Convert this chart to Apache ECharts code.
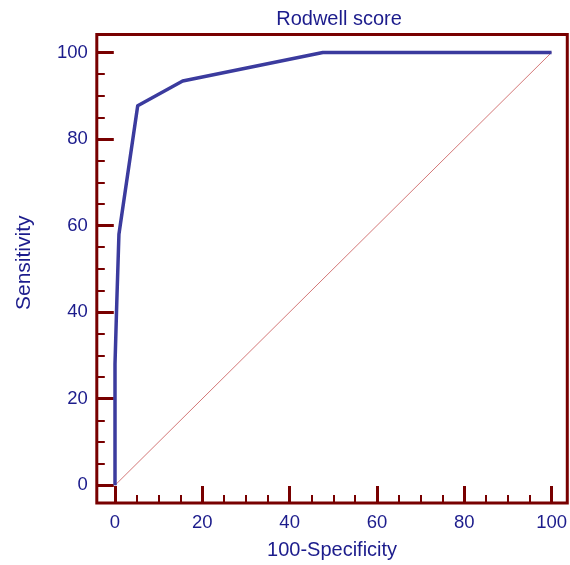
<!DOCTYPE html>
<html>
<head>
<meta charset="utf-8">
<script src="https://cdn.jsdelivr.net/npm/echarts@6/dist/echarts.min.js"></script>
<style>html,body{margin:0;padding:0;background:#fff}#c{width:570px;height:565px}</style>
</head>
<body>
<div id="c"></div>
<script>
var titleText = "Rodwell score";
var xName = "100-Specificity";
var yName = "Sensitivity";
var rocX = [0, 0, 0.4, 0.9, 5.2, 15.5, 47.6, 100];
var rocY = [0, 28, 42, 58, 87.7, 93.4, 100, 100];
var diagX = [0, 100];
var diagY = [0, 100];
var majorTicks = [0, 20, 40, 60, 80, 100];
var minorTicks = [5, 10, 15, 25, 30, 35, 45, 50, 55, 65, 70, 75, 85, 90, 95];

var frame = '#780000';
var navy = '#1c1c8c';
var font = 'Liberation Sans, Arial, sans-serif';

function pairs(xs, ys){ return xs.map(function(x,i){ return [x, ys[i]]; }); }

function mainAxis(isX){
  return {
    type: 'value', min: isX ? -4.17 : -4.1, max: isX ? 103.6 : 104.15,
    position: isX ? 'bottom' : 'left',
    splitLine: {show:false},
    axisLine: {show:false, onZero:false},
    axisTick: {show:true, inside:true, length:17, customValues: majorTicks, lineStyle:{color:frame, width:3}},
    axisLabel: {show:true, customValues: majorTicks, margin: isX ? 10 : 9, color:navy, fontSize:18.5, fontFamily:font},
    name: isX ? xName : yName,
    nameLocation: 'middle',
    nameGap: isX ? 37 : 62,
    nameTextStyle: isX ? {color:navy, fontSize:20, fontFamily:font}
                       : {color:navy, fontSize:21, fontFamily:font, padding:[0,0,0,12]}
  };
}
function minorAxis(isX){
  return {
    type: 'value', min: isX ? -4.17 : -4.1, max: isX ? 103.6 : 104.15,
    position: isX ? 'bottom' : 'left',
    splitLine: {show:false},
    axisLine: {show:false, onZero:false},
    axisTick: {show:true, inside:true, length:8, customValues: minorTicks, lineStyle:{color:frame, width:2}},
    axisLabel: {show:false}
  };
}

var chart = echarts.init(document.getElementById('c'), null, {renderer:'canvas'});
chart.setOption({
  animation: false,
  backgroundColor: '#fff',
  title: {text: titleText, left: 334, textAlign: 'center', top: 4,
    textStyle: {color: navy, fontSize: 20, fontWeight: 'normal', fontFamily: font}},
  grid: {left: 96.8, right: 2.2, top: 34.5, bottom: 60.5, show: true, borderColor: frame, borderWidth: 3, backgroundColor: 'transparent'},
  xAxis: [mainAxis(true), minorAxis(true)],
  yAxis: [mainAxis(false), minorAxis(false)],
  series: [
    {type:'line', data: pairs(diagX, diagY), symbol:'none', lineStyle:{color:'#d47878', width:1}, z:2},
    {type:'line', data: pairs(rocX, rocY), symbol:'none', lineStyle:{color:'#3b3b9e', width:3.5, join:'round'}, z:3}
  ]
});
</script>
</body>
</html>
